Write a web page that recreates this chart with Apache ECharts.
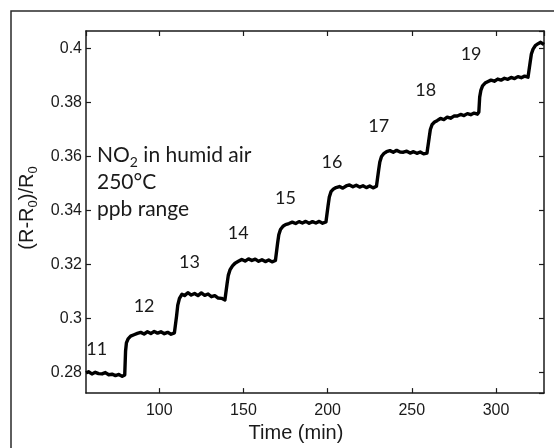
<!DOCTYPE html>
<html>
<head>
<meta charset="utf-8">
<script src="https://cdn.jsdelivr.net/npm/echarts@6/dist/echarts.min.js"></script>
<style>
html,body{margin:0;padding:0;background:#fff;}
#chart{width:554px;height:448px;}
</style>
</head>
<body>
<div id="chart"></div>
<script>
// ---- data ----
const times = [
  56.5,58,60,62,64,66,68,70,72,74,76,78,79.5,
  80,80.5,81.5,83,85,
  87,89,91,93,95,97,99,101,103,105,107,109,109.8,
  110.3,111,112,113.5,115,
  117,119,121,123,125,127,129,131,133,135,137,139,139.8,
  140.3,141,142,143.5,145,147,
  149,151,153,155,157,159,161,163,165,167,169,169.8,
  170.3,171,172,173.5,175,177,
  179,181,183,185,187,189,191,193,195,197,199,199.8,
  200.3,201,202,203.5,205,
  207,209,211,213,215,217,219,221,223,225,227,229,229.8,
  230.3,231,232,233.5,235,
  237,239,241,243,245,247,249,251,253,255,257,259,259.8,
  260.3,261,262,263.5,265,
  267,269,271,273,275,277,279,281,283,285,287,289,289.8,
  290.3,291,292,293.5,295,
  297,299,301,303,305,307,309,311,313,315,317,319,319.8,
  320.3,321,322,323.5,325,326.5,327.5,328.5
];
const response = [
  .2799,.2803,.2795,.2801,.2796,.2795,.2800,.2792,.2794,.2789,.2793,.2786,.2791,
  .2880,.2910,.2925,.2935,.2940,
  .2945,.2949,.2943,.2951,.2945,.2952,.2946,.2951,.2944,.2949,.2942,.2947,.2950,
  .3010,.3050,.3075,.3090,.3085,
  .3096,.3087,.3093,.3085,.3095,.3086,.3091,.3081,.3085,.3076,.3075,.3069,.3075,
  .3130,.3160,.3180,.3195,.3205,.3212,
  .3219,.3213,.3221,.3215,.3220,.3212,.3218,.3211,.3217,.3210,.3215,.3220,
  .3280,.3310,.3330,.3342,.3348,.3352,
  .3357,.3352,.3359,.3354,.3360,.3353,.3359,.3354,.3360,.3353,.3358,.3362,
  .3420,.3450,.3470,.3480,.3485,
  .3489,.3483,.3491,.3495,.3488,.3494,.3487,.3492,.3485,.3491,.3484,.3490,.3495,
  .3550,.3580,.3600,.3612,.3618,
  .3622,.3616,.3623,.3617,.3616,.3620,.3613,.3618,.3612,.3617,.3610,.3613,.3618,
  .3670,.3700,.3718,.3728,.3733,
  .3741,.3737,.3746,.3742,.3750,.3750,.3756,.3752,.3759,.3755,.3761,.3757,.3765,
  .3820,.3845,.3862,.3872,.3877,
  .3883,.3879,.3887,.3883,.3890,.3886,.3893,.3889,.3896,.3892,.3898,.3894,.3900,
  .3950,.3980,.3998,.4012,.4018,.4023,.4019,.4015
];
const stepLabels = ['11','12','13','14','15','16','17','18','19'];
const labelTimes = [62.9, 91.0, 117.9, 146.9, 175.0, 202.6, 230.3, 258.2, 285.2];
const labelLevels = [0.2887, 0.3047, 0.3207, 0.3318, 0.3447, 0.3578, 0.3711, 0.3847, 0.3979];
const xRange = [56.5, 328.5];
const yRange = [0.2724, 0.4065];

const seriesData = times.map((t, i) => [t, response[i]]);
const labelData = stepLabels.map((s, i) => ({ name: s, value: [labelTimes[i], labelLevels[i]] }));

const ink = '#1a1a1a';
const tickFont = '"Liberation Sans", Arial, sans-serif';
const annFont = 'Lato, "Open Sans", sans-serif';

const chart = echarts.init(document.getElementById('chart'), null, { renderer: 'canvas' });

const baseAxis = {
  type: 'value',
  axisLine: { show: true, onZero: false, lineStyle: { color: ink, width: 1.5 } },
  axisTick: { show: true, inside: true, length: 5, lineStyle: { color: ink, width: 1.2 } },
  splitLine: { show: false },
};

chart.setOption({
  animation: false,
  backgroundColor: '#fff',
  grid: { left: 86, right: 10, top: 31, bottom: 54, containLabel: false },
  xAxis: [
    Object.assign({}, baseAxis, {
      position: 'bottom', min: xRange[0], max: xRange[1], splitNumber: 5,
      axisLabel: { show: true, showMinLabel: false, showMaxLabel: false, color: ink, fontSize: 16, fontFamily: tickFont, margin: 9 },
      name: 'Time (min)', nameLocation: 'middle', nameGap: 29,
      nameTextStyle: { color: ink, fontSize: 20, fontFamily: tickFont, padding: [0, 38, 0, 0] }
    }),
    Object.assign({}, baseAxis, {
      position: 'top', min: xRange[0], max: xRange[1], splitNumber: 5,
      axisLabel: { show: false }
    })
  ],
  yAxis: [
    Object.assign({}, baseAxis, {
      position: 'left', min: yRange[0], max: yRange[1], splitNumber: 6,
      axisLabel: { show: true, showMinLabel: false, showMaxLabel: false, color: ink, fontSize: 16, fontFamily: tickFont, margin: 4,
        formatter: v => String(+v.toFixed(2)) },
      name: '{a|(R-R}{s|0}{a|)/R}{s|0}', nameLocation: 'middle', nameGap: 41, nameRotate: 90,
      nameTextStyle: {
        color: ink, fontFamily: tickFont, padding: [0, 0, 0, 8],
        rich: {
          a: { fontSize: 20, fontFamily: tickFont, color: ink, lineHeight: 24 },
          s: { fontSize: 13, fontFamily: tickFont, color: ink, lineHeight: 13, verticalAlign: 'bottom' }
        }
      }
    }),
    Object.assign({}, baseAxis, {
      position: 'right', min: yRange[0], max: yRange[1], splitNumber: 6,
      axisLabel: { show: false }
    })
  ],
  graphic: [
    { type: 'polyline', z: -10, silent: true,
      shape: { points: [[11, 470], [11, 11], [570, 11]] },
      style: { fill: 'none', stroke: '#2a2a2a', lineWidth: 1.5 } },
    { type: 'text', left: 97, top: 145, z: 10,
      style: {
        text: '{a|NO}{s|2}{a| in humid air}\n{a|250°C}\n{a|ppb range}',
        fill: ink,
        rich: {
          a: { fontSize: 21, fontFamily: annFont, fill: ink, lineHeight: 27 },
          s: { fontSize: 14, fontFamily: annFont, fill: ink, lineHeight: 14, verticalAlign: 'bottom' }
        }
      }
    }
  ],
  series: [
    {
      type: 'line', xAxisIndex: 0, yAxisIndex: 0, data: seriesData,
      showSymbol: false, symbol: 'none',
      lineStyle: { color: '#000', width: 3.4, join: 'round' }, z: 5
    },
    {
      type: 'scatter', xAxisIndex: 0, yAxisIndex: 0, data: labelData,
      symbolSize: 0, itemStyle: { opacity: 1 },
      label: { show: true, position: 'inside', formatter: p => p.name, color: ink, opacity: 1, fontSize: 18, fontFamily: annFont },
      z: 6
    }
  ]
});
</script>
</body>
</html>
